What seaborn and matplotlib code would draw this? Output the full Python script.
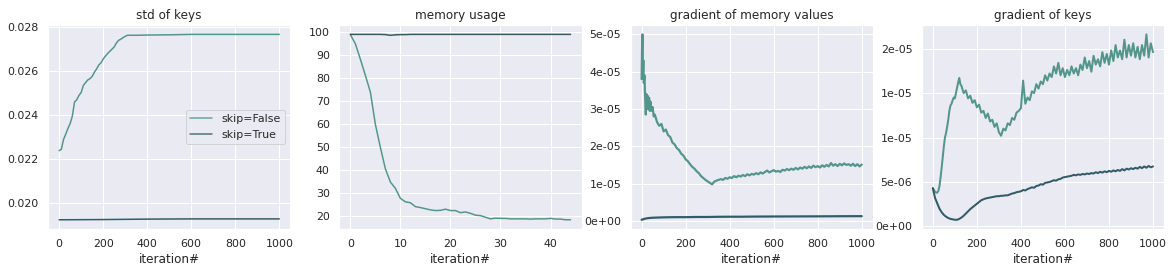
import numpy as np
import pandas as pd
import matplotlib
matplotlib.use("Agg")
import matplotlib.pyplot as plt
from matplotlib.ticker import FormatStrFormatter
import seaborn as sns

# ---------------- data ----------------
labels = ["skip=False", "skip=True"]
titles = ["std of keys", "memory usage", "gradient of memory values", "gradient of keys"]

# std of keys
std_x_false = [0, 10, 20, 30, 40, 50, 60, 70, 80, 90, 100, 110, 120, 130, 140, 150, 160,
               170, 180, 190, 200, 210, 220, 230, 240, 250, 260, 270, 280, 290, 300, 310,
               350, 400, 500, 600, 700, 800, 900, 1000]
std_false = [0.02239, 0.02245, 0.02290, 0.02314, 0.02340, 0.02362, 0.02396, 0.02460, 0.02470,
             0.02490, 0.02503, 0.02535, 0.02548, 0.02560, 0.02566, 0.02576, 0.02595, 0.02610,
             0.02628, 0.02638, 0.02655, 0.02668, 0.02680, 0.02690, 0.02700, 0.02710, 0.02728,
             0.02740, 0.02745, 0.02752, 0.02758, 0.02763, 0.02763, 0.02764, 0.02765, 0.02767,
             0.02767, 0.02767, 0.02767, 0.02767]
std_x_true = [0, 200, 400, 600, 800, 1000]
std_true = [0.01925, 0.01926, 0.01928, 0.01929, 0.01929, 0.01929]

# memory usage
mem_x = list(range(45))
mem_false = [98.7, 94.7, 88.0, 81.0, 73.7, 59.7, 49.7, 40.4, 34.7, 31.9, 27.6, 26.1, 25.7,
             24.0, 23.6, 23.1, 22.6, 22.3, 22.4, 22.9, 22.3, 22.3, 21.4, 21.7, 21.1, 20.3,
             20.1, 19.4, 18.7, 19.0, 18.9, 18.9, 18.7, 18.7, 18.7, 18.7, 18.6, 18.7, 18.7,
             18.7, 18.9, 18.6, 18.6, 18.3, 18.3]
mem_true = [98.8, 98.8, 98.8, 98.8, 98.8, 98.8, 98.8, 98.7, 98.4, 98.6, 98.7, 98.7, 98.8,
            98.8, 98.8, 98.8, 98.8, 98.8, 98.8, 98.8, 98.8, 98.8, 98.8, 98.8, 98.8, 98.8,
            98.8, 98.8, 98.8, 98.8, 98.8, 98.8, 98.8, 98.8, 98.8, 98.8, 98.8, 98.8, 98.8,
            98.8, 98.8, 98.8, 98.8, 98.8, 98.8]

# gradient of memory values (units of 1e-5)
gm_x_false = [0, 2, 4, 6, 8, 10, 13, 16, 19, 22, 25, 28, 31, 34, 37, 40, 45, 50, 55, 60,
              70, 80, 90, 100, 110, 120, 130, 140, 150, 160, 170, 180, 190, 200, 210, 220,
              230, 240, 250, 260, 270, 280, 290, 300, 310, 320, 330, 340, 350, 360, 370,
              380, 390, 400, 410, 420, 430, 440, 450, 460, 470, 480, 490, 500, 510, 520,
              530, 540, 550, 560, 570, 580, 590, 600, 610, 620, 630, 640, 650, 660, 670,
              680, 690, 700, 710, 720, 730, 740, 750, 760, 770, 780, 790, 800, 810, 820,
              830, 840, 850, 860, 870, 880, 890, 900, 910, 920, 930, 940, 950, 960, 970,
              980, 990, 1000]
gm_false = [3.8, 4.6, 5.0, 4.0, 4.3, 3.7, 3.9, 3.3, 2.85, 3.4, 3.0, 3.35, 3.0, 3.3, 2.95,
            3.2, 2.95, 3.05, 2.8, 2.85,
            2.65, 2.55, 2.6, 2.4, 2.45, 2.3, 2.25, 2.1, 2.05, 1.95, 1.9, 1.8, 1.75, 1.65,
            1.6, 1.52, 1.45, 1.4, 1.33, 1.28, 1.2, 1.15, 1.1, 1.06, 1.02, 0.98, 1.05, 1.08,
            1.1, 1.12, 1.1, 1.15, 1.13, 1.17, 1.15, 1.2, 1.17, 1.21, 1.19, 1.23, 1.2, 1.25,
            1.22, 1.26, 1.24, 1.28, 1.25, 1.3, 1.27, 1.31, 1.35, 1.3, 1.33, 1.36, 1.32,
            1.34, 1.31, 1.37, 1.35, 1.39, 1.36, 1.4, 1.37, 1.42, 1.38, 1.43, 1.4, 1.45,
            1.41, 1.46, 1.42, 1.48, 1.44, 1.47, 1.43, 1.49, 1.45, 1.5, 1.46, 1.55, 1.48,
            1.52, 1.47, 1.53, 1.49, 1.54, 1.5, 1.52, 1.48, 1.53, 1.47, 1.52, 1.46, 1.51]
gm_x_true = [0, 10, 20, 30, 50, 75, 100, 150, 200, 250, 300, 350, 400, 450, 500, 600, 700,
             800, 900, 1000]
gm_true = [0.03, 0.05, 0.065, 0.075, 0.085, 0.09, 0.095, 0.1, 0.1, 0.105, 0.105, 0.11,
           0.112, 0.112, 0.115, 0.118, 0.12, 0.122, 0.125, 0.127]

# gradient of keys (units of 1e-5)
gk_x_false = [0, 5, 10, 15, 20, 25, 30, 35, 40, 45, 50, 55, 60, 65, 70, 75, 80, 85, 90, 95,
              100, 105, 110, 115, 120, 125, 130, 140, 150, 160, 170, 180, 190, 200, 210,
              220, 230, 240, 250, 260, 270, 280, 290, 300, 310, 320, 330, 340, 350, 360,
              370, 380, 390, 400, 410, 420, 430, 440, 450, 460, 470, 480, 490, 500, 510,
              520, 530, 540, 550, 560, 570, 580, 590, 600, 610, 620, 630, 640, 650, 660,
              670, 680, 690, 700, 710, 720, 730, 740, 750, 760, 770, 780, 790, 800, 810,
              820, 830, 840, 850, 860, 870, 880, 890, 900, 910, 920, 930, 940, 950, 960,
              970, 980, 990, 1000]
gk_false = [0.43, 0.41, 0.39, 0.38, 0.38, 0.40, 0.45, 0.55, 0.66, 0.78, 0.9, 1.0, 1.05,
            1.12, 1.2, 1.3, 1.36, 1.38, 1.42, 1.45, 1.44, 1.5, 1.56, 1.62, 1.67, 1.6, 1.58,
            1.5, 1.53, 1.44, 1.47, 1.39, 1.42, 1.34, 1.37, 1.28, 1.3, 1.22, 1.27, 1.18, 1.2,
            1.12, 1.16, 1.06, 1.02, 1.1, 1.08, 1.16, 1.14, 1.22, 1.2, 1.28, 1.3, 1.33, 1.64,
            1.38, 1.45, 1.42, 1.52, 1.5, 1.6, 1.55, 1.63, 1.6, 1.7, 1.64, 1.72, 1.68, 1.8,
            1.72, 1.84, 1.7, 1.78, 1.68, 1.76, 1.7, 1.8, 1.72, 1.78, 1.7, 1.82, 1.76, 1.9,
            1.78, 1.86, 1.74, 1.92, 1.82, 1.88, 1.8, 1.96, 1.84, 1.94, 1.82, 1.98, 1.86,
            2.04, 1.9, 1.98, 1.88, 2.1, 1.9, 2.04, 1.92, 2.06, 1.9, 2.02, 1.88, 2.04, 1.92,
            2.16, 1.9, 2.06, 1.96]
gk_x_true = list(range(0, 1001, 10))
gk_true = [0.43, 0.32, 0.26, 0.2, 0.16, 0.13, 0.11, 0.095, 0.085, 0.08, 0.075, 0.075, 0.085,
           0.1, 0.12, 0.145, 0.17, 0.195, 0.215, 0.235, 0.255, 0.275, 0.295, 0.305, 0.315,
           0.32, 0.325, 0.33, 0.335, 0.34, 0.34, 0.345, 0.345, 0.35, 0.35, 0.36, 0.37,
           0.375, 0.385, 0.39, 0.395, 0.41, 0.405, 0.42, 0.43, 0.44, 0.435, 0.455, 0.46,
           0.475, 0.47, 0.49, 0.495, 0.5, 0.51, 0.52, 0.515, 0.53, 0.535, 0.55, 0.555, 0.56,
           0.565, 0.57, 0.58, 0.575, 0.585, 0.58, 0.59, 0.585, 0.595, 0.59, 0.6, 0.595,
           0.61, 0.6, 0.615, 0.605, 0.62, 0.61, 0.625, 0.615, 0.63, 0.62, 0.635, 0.625,
           0.645, 0.63, 0.65, 0.64, 0.655, 0.645, 0.66, 0.65, 0.67, 0.655, 0.675, 0.66,
           0.68, 0.665, 0.675]

GRAD_UNIT = 1e-5


def long_df(xf, yf, xt, yt, scale=1.0):
    return pd.DataFrame({
        "iteration#": list(xf) + list(xt),
        "value": [v * scale for v in yf] + [v * scale for v in yt],
        "skip": [labels[0]] * len(xf) + [labels[1]] * len(xt),
    })


frames = [
    long_df(std_x_false, std_false, std_x_true, std_true),
    long_df(mem_x, mem_false, mem_x, mem_true),
    long_df(gm_x_false, gm_false, gm_x_true, gm_true, GRAD_UNIT),
    long_df(gk_x_false, gk_false, gk_x_true, gk_true, GRAD_UNIT),
]
widths = [1.5, 1.5, 2.2, 2.0]

# ---------------- plot ----------------
sns.set_theme(style="darkgrid", context="notebook")
plt.rcParams["font.family"] = ["DejaVu Sans"]

palette = {labels[0]: "#4a9185", labels[1]: "#27535e"}

fig, axes = plt.subplots(1, 4, figsize=(1174 / 72, 273 / 72), dpi=72)
fig.subplots_adjust(left=0.041, right=0.9915, top=0.908, bottom=0.161, wspace=0.2025)

for i, (ax, df) in enumerate(zip(axes, frames)):
    sns.lineplot(data=df, x="iteration#", y="value", hue="skip", palette=palette,
                 ax=ax, legend=(i == 0), linewidth=widths[i], alpha=0.95, estimator=None)
    ax.set_title(titles[i], fontsize=12)
    ax.set_ylabel("")
    ax.set_xlabel("iteration#", fontsize=12)
    ax.tick_params(labelsize=11)

axes[0].set_xticks([0, 200, 400, 600, 800, 1000])
axes[0].yaxis.set_major_formatter(FormatStrFormatter("%.3f"))
axes[1].set_xticks([0, 10, 20, 30, 40])
axes[2].set_xticks([0, 200, 400, 600, 800, 1000])
axes[3].set_xticks([0, 200, 400, 600, 800, 1000])
axes[2].yaxis.set_major_formatter(FormatStrFormatter("%.0e"))
axes[3].yaxis.set_major_formatter(FormatStrFormatter("%.0e"))

leg = axes[0].legend(loc="center right", fontsize=11, title=None)
for line in leg.get_lines():
    line.set_alpha(0.8)
    line.set_linewidth(1.5)

fig.savefig("out.png", dpi=72)
